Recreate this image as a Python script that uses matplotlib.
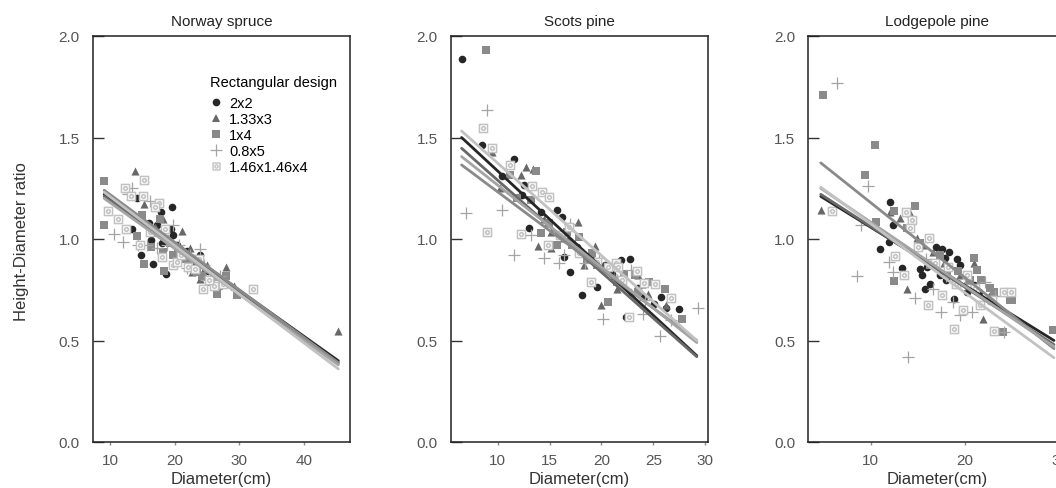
import numpy as np
import matplotlib
matplotlib.use("Agg")
import matplotlib.pyplot as plt
from matplotlib.path import Path
from matplotlib.lines import Line2D

plt.rcParams["font.family"] = ["Liberation Sans", "DejaVu Sans"]

designs = ["2x2", "1.33x3", "1x4", "0.8x5", "1.46x1.46x4"]
colors = ["#262626", "#686868", "#8a8a8a", "#a4a4a4", "#c2c2c2"]
species = ["Norway spruce", "Scots pine", "Lodgepole pine"]

# ---- Norway spruce: diameter (cm) / height-diameter ratio per design
spruce_2x2_d = [13.35, 14.75, 16.3, 16.7, 17.9, 18.6, 19.6, 19.4, 14.1, 21.1, 23.9, 26.5, 19.8, 17.2, 21.9, 18.4, 20.4, 22.8,
                16.0, 18.0, 20.8, 23.0, 25.2]
spruce_2x2_r = [1.05, 0.92, 0.995, 0.876, 1.135, 0.83, 1.157, 1.05, 1.20, 0.904, 0.92, 0.755, 1.02, 1.07, 0.94, 1.0, 0.97, 0.88,
                1.08, 0.98, 0.95, 0.87, 0.84]
spruce_133_d = [13.8, 21.1, 28.0, 45.2, 22.4, 22.6, 25.0, 15.2, 18.2, 26.75, 29.1, 23.9, 19.0, 20.5, 24.5, 27.2,
                17.0, 19.5, 21.8, 25.8, 27.6]
spruce_133_r = [1.337, 1.04, 0.863, 0.548, 0.954, 0.838, 0.87, 1.17, 1.10, 0.82, 0.77, 0.805, 1.0, 0.96, 0.85, 0.80,
                1.06, 0.99, 0.91, 0.83, 0.79]
spruce_14_d = [9.07, 9.07, 15.26, 18.35, 26.5, 29.7, 14.1, 16.4, 18.25, 19.8, 23.4, 25.5, 28.0, 14.9, 17.7, 21.5, 24.2,
               16.8, 19.2, 22.5, 26.9, 20.5]
spruce_14_r = [1.285, 1.07, 0.876, 0.84, 0.728, 0.722, 1.016, 0.962, 0.937, 0.92, 0.838, 0.79, 0.82, 1.12, 1.10, 0.90, 0.82,
               1.03, 0.98, 0.90, 0.77, 0.94]
spruce_085_d = [13.45, 10.6, 11.96, 14.4, 16.2, 19.8, 23.9, 15.7, 18.8, 21.9, 26.0, 17.2, 12.8, 24.8,
                18.2, 20.6, 22.4, 24.6, 27.0]
spruce_085_r = [1.25, 1.023, 0.987, 0.97, 1.185, 1.07, 0.95, 0.97, 0.97, 0.855, 0.805, 0.955, 1.22, 0.80,
                1.02, 0.97, 0.92, 0.87, 0.82]
spruce_146_d = [15.3, 12.3, 13.2, 9.7, 11.3, 12.4, 15.05, 17.5, 18.0, 19.8, 24.4, 32.1, 20.3, 14.6, 26.0, 16.2, 17.0, 22.0, 25.3,
                18.5, 20.9, 23.2, 23.8, 27.5]
spruce_146_r = [1.29, 1.25, 1.21, 1.14, 1.10, 1.048, 1.21, 1.177, 0.912, 0.871, 0.752, 0.752, 0.888, 0.97, 0.77, 1.036, 1.16, 0.86, 0.80,
                1.05, 0.92, 0.85, 0.90, 0.78]

# ---- Scots pine
pine_2x2_d = [6.54, 8.45, 10.4, 11.6, 12.5, 13.05, 15.7, 16.2, 16.4, 17.0, 18.1, 19.6, 21.9, 22.4, 24.1, 25.05, 25.7, 27.5, 20.3, 12.3, 14.2, 19.0, 22.8,
              14.8, 17.6, 21.0, 23.5, 26.2]
pine_2x2_r = [1.885, 1.465, 1.31, 1.396, 1.267, 1.056, 1.143, 1.11, 0.912, 0.838, 0.723, 0.764, 0.896, 0.615, 0.715, 0.681, 0.715, 0.653, 0.871, 1.218, 1.135, 0.92, 0.90,
              1.08, 0.96, 0.83, 0.76, 0.66]
pine_133_d = [9.4, 12.7, 13.4, 17.7, 13.85, 15.1, 19.4, 20.0, 22.85, 26.2, 24.5, 15.1, 18.3, 16.4, 21.5, 12.2, 23.5, 10.2,
              14.5, 16.8, 19.0, 21.2, 23.9]
pine_133_r = [1.43, 1.353, 1.345, 1.082, 0.967, 0.954, 0.967, 0.677, 0.739, 0.677, 0.731, 1.036, 0.871, 1.003, 0.756, 1.317, 0.822, 1.25,
              1.10, 1.00, 0.90, 0.82, 0.78]
pine_14_d = [8.87, 13.7, 11.2, 14.2, 17.8, 20.6, 26.1, 27.8, 23.2, 19.6, 15.7, 23.5, 11.85, 21.5, 16.7, 18.6,
             14.9, 17.2, 19.1, 22.2, 24.6, 13.2]
pine_14_r = [1.93, 1.335, 1.317, 1.028, 1.012, 0.69, 0.756, 0.607, 0.822, 0.871, 0.97, 0.739, 1.201, 0.789, 1.036, 0.90,
             1.08, 0.97, 0.93, 0.83, 0.79, 1.19]
pine_085_d = [9.0, 6.9, 10.4, 11.6, 14.5, 15.9, 17.0, 20.1, 25.6, 29.3, 24.0, 16.4, 19.8, 22.85, 26.7,
              13.2, 18.4, 21.5, 24.2]
pine_085_r = [1.634, 1.127, 1.143, 0.921, 0.904, 0.88, 1.073, 0.607, 0.521, 0.66, 0.632, 0.921, 0.904, 0.847, 0.599,
              1.02, 0.88, 0.80, 0.70]
pine_146_d = [8.6, 9.4, 9.0, 12.2, 13.3, 14.3, 14.9, 11.2, 16.9, 19.0, 21.4, 24.1, 25.2, 26.7, 22.7, 19.6, 14.8, 21.6,
              16.0, 17.8, 20.6, 22.0, 23.4]
pine_146_r = [1.545, 1.449, 1.036, 1.026, 1.259, 1.231, 1.206, 1.366, 1.061, 0.789, 0.88, 0.785, 0.78, 0.711, 0.615, 0.888, 0.97, 0.86,
              1.02, 0.93, 0.86, 0.80, 0.84]

# ---- Lodgepole pine
lodge_2x2_d = [11.0, 12.05, 11.9, 13.3, 15.2, 15.4, 15.76, 16.3, 16.9, 17.5, 18.3, 17.9, 19.1, 19.4, 18.8, 20.2, 12.4, 17.35, 20.9,
               16.0, 18.0, 21.5]
lodge_2x2_r = [0.949, 1.182, 0.987, 0.858, 0.851, 0.822, 0.756, 0.776, 0.962, 0.951, 0.937, 0.904, 0.9, 0.871, 0.706, 0.739, 1.069, 0.822, 0.772,
               0.86, 0.80, 0.74]
lodge_133_d = [4.7, 14.2, 13.8, 20.95, 21.9, 24.8, 14.9, 13.1, 16.6, 19.5, 23.0, 12.05,
               15.5, 17.8, 20.2, 22.5]
lodge_133_r = [1.143, 1.13, 0.756, 0.88, 0.607, 0.706, 1.003, 1.102, 0.937, 0.822, 0.739, 1.135,
               0.97, 0.88, 0.80, 0.72]
lodge_14_d = [4.98, 10.4, 9.4, 14.7, 12.5, 10.6, 12.5, 20.9, 21.3, 21.7, 23.0, 24.7, 24.0, 29.3, 13.8, 18.06, 16.3,
              15.2, 17.3, 19.2, 20.5, 22.6, 25.0]
lodge_14_r = [1.708, 1.462, 1.314, 1.165, 1.14, 1.083, 0.794, 0.908, 0.847, 0.797, 0.739, 0.698, 0.541, 0.553, 1.053, 0.822, 0.871,
              0.98, 0.92, 0.84, 0.80, 0.76, 0.70]
lodge_085_d = [6.47, 9.75, 8.5, 9.0, 11.9, 12.3, 13.9, 14.7, 17.4, 19.5, 20.7, 16.6, 22.1, 24.1, 18.7,
               15.8, 18.0, 20.0, 23.2]
lodge_085_r = [1.767, 1.259, 0.817, 1.069, 0.888, 0.838, 0.421, 0.711, 0.64, 0.624, 0.64, 0.756, 0.789, 0.541, 0.69,
               0.90, 0.82, 0.78, 0.72]
lodge_146_d = [5.87, 13.7, 14.4, 16.15, 12.6, 13.5, 16.1, 18.8, 23.1, 24.1, 19.8, 17.5, 21.6, 14.2, 20.2,
               15.0, 16.8, 18.2, 19.0, 21.0, 22.8, 24.8]
lodge_146_r = [1.14, 1.135, 1.094, 1.007, 0.916, 0.822, 0.677, 0.558, 0.545, 0.739, 0.649, 0.723, 0.673, 1.053, 0.822,
               0.96, 0.88, 0.86, 0.78, 0.76, 0.70, 0.74]

# fitted lines per design: x range and ratio at both ends
spruce_fit_x = [9.1, 45.3]
spruce_fit_y0 = [1.22, 1.21, 1.24, 1.20, 1.23]
spruce_fit_y1 = [0.40, 0.39, 0.39, 0.38, 0.36]
pine_fit_x = [6.5, 29.2]
pine_fit_y0 = [1.50, 1.447, 1.365, 1.406, 1.532]
pine_fit_y1 = [0.425, 0.42, 0.50, 0.49, 0.50]
lodge_fit_x = [4.7, 29.4]
lodge_fit_y0 = [1.21, 1.22, 1.375, 1.25, 1.255]
lodge_fit_y1 = [0.50, 0.48, 0.46, 0.47, 0.415]

xlims = [(7.37, 47.1), (5.45, 30.25), (3.38, 30.6)]
xticks = [[10, 20, 30, 40], [10, 15, 20, 25, 30], [10, 20, 30]]
lefts = [93, 450.7, 808.3]

points = [
    [(spruce_2x2_d, spruce_2x2_r), (spruce_133_d, spruce_133_r), (spruce_14_d, spruce_14_r),
     (spruce_085_d, spruce_085_r), (spruce_146_d, spruce_146_r)],
    [(pine_2x2_d, pine_2x2_r), (pine_133_d, pine_133_r), (pine_14_d, pine_14_r),
     (pine_085_d, pine_085_r), (pine_146_d, pine_146_r)],
    [(lodge_2x2_d, lodge_2x2_r), (lodge_133_d, lodge_133_r), (lodge_14_d, lodge_14_r),
     (lodge_085_d, lodge_085_r), (lodge_146_d, lodge_146_r)],
]
fits = [
    (spruce_fit_x, spruce_fit_y0, spruce_fit_y1),
    (pine_fit_x, pine_fit_y0, pine_fit_y1),
    (lodge_fit_x, lodge_fit_y0, lodge_fit_y1),
]

# square with a circle inside
sq = Path([(-1, -1), (1, -1), (1, 1), (-1, 1), (-1, -1)],
          [Path.MOVETO, Path.LINETO, Path.LINETO, Path.LINETO, Path.CLOSEPOLY])
boxcirc = Path.make_compound_path(sq, Path.circle((0, 0), 0.45))

marker_kw = [
    dict(marker="o", s=30, color=colors[0], linewidths=0),
    dict(marker="^", s=34, color=colors[1], linewidths=0),
    dict(marker="s", s=28, color=colors[2], linewidths=0),
    dict(marker="+", s=80, color=colors[3], linewidths=0.9),
    dict(marker=boxcirc, s=34, facecolors="white", edgecolors=colors[4], linewidths=1.1),
]

W, H = 1056, 489
fig = plt.figure(figsize=(W / 100, H / 100), dpi=100)
axes = []
for k in range(3):
    ax = fig.add_axes([lefts[k] / W, (H - 443) / H, 257 / W, 406 / H])
    axes.append(ax)
    for j in range(5):
        xs, ys = points[k][j]
        ax.scatter(xs, ys, zorder=2, **marker_kw[j])
    fx, fy0, fy1 = fits[k]
    for j in range(5):
        ax.plot(fx, [fy0[j], fy1[j]], color=colors[j], lw=2.0, zorder=3,
                solid_capstyle="round")
    ax.set_xlim(*xlims[k])
    ax.set_ylim(0, 2)
    ax.set_xticks(xticks[k])
    ax.set_yticks([0.0, 0.5, 1.0, 1.5, 2.0])
    ax.set_yticklabels(["0.0", "0.5", "1.0", "1.5", "2.0"])
    ax.tick_params(axis="y", direction="in", length=8, width=1, color="#333333",
                   pad=9.5, labelsize=11, labelcolor="#555555")
    ax.tick_params(axis="x", direction="out", length=2.5, width=1, color="#888888",
                   pad=5.5, labelsize=11, labelcolor="#555555")
    for sp in ax.spines.values():
        sp.set_color("#222222")
        sp.set_linewidth(1.1)
    ax.set_title(species[k], fontsize=11, color="#222222", pad=8)
    ax.set_xlabel("Diameter(cm)", fontsize=12, color="#333333", labelpad=3)

fig.text(22 / W, 0.505, "Height-Diameter ratio", rotation=90, ha="center", va="center",
         fontsize=12, color="#333333")

handles = []
for j in range(5):
    kw = marker_kw[j]
    if j == 4:
        h = Line2D([], [], ls="none", marker=boxcirc, markersize=5, markerfacecolor="white",
                   markeredgecolor=colors[4], markeredgewidth=1.0)
    elif j == 3:
        h = Line2D([], [], ls="none", marker="+", markersize=8, markeredgecolor=colors[3],
                   markeredgewidth=0.9)
    else:
        h = Line2D([], [], ls="none", marker=kw["marker"], markersize=5.5,
                   markerfacecolor=colors[j], markeredgewidth=0)
    handles.append(h)
leg = axes[0].legend(handles, designs, title="Rectangular design", loc="upper left",
                     bbox_to_anchor=(0.455, 0.903), frameon=False, fontsize=10.5,
                     title_fontsize=10.5, handlelength=0.8, handletextpad=0.5,
                     labelspacing=0.13, borderaxespad=0, borderpad=0)
leg._legend_box.align = "left"
leg._legend_box.sep = 5

fig.savefig("out.png", dpi=100)
